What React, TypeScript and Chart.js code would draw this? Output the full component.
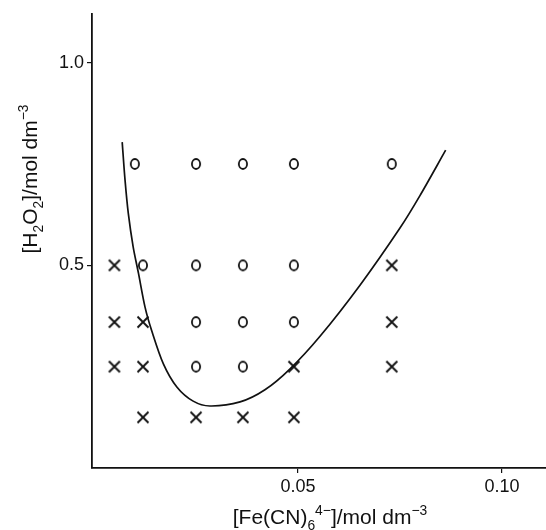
import React, { useEffect, useRef } from "react";
import { Chart, registerables } from "chart.js";

Chart.register(...registerables);

// Data
const circleX = [0.010, 0.025, 0.0365, 0.049, 0.073, 0.012, 0.025, 0.0365, 0.049, 0.025, 0.0365, 0.049, 0.025, 0.0365];
const circleY = [0.75, 0.75, 0.75, 0.75, 0.75, 0.5, 0.5, 0.5, 0.5, 0.36, 0.36, 0.36, 0.25, 0.25];
const crossX = [0.005, 0.073, 0.005, 0.012, 0.073, 0.005, 0.012, 0.049, 0.073, 0.012, 0.025, 0.0365, 0.049];
const crossY = [0.5, 0.5, 0.36, 0.36, 0.36, 0.25, 0.25, 0.25, 0.25, 0.125, 0.125, 0.125, 0.125];
const curveX = [0.0069, 0.0076, 0.0084, 0.0096, 0.0109, 0.0125, 0.0141, 0.0170, 0.0203, 0.0243, 0.0284, 0.0358, 0.0419, 0.0480, 0.0554, 0.0652, 0.0750, 0.0799, 0.0862];
const curveY = [0.804, 0.710, 0.628, 0.545, 0.480, 0.397, 0.340, 0.257, 0.200, 0.165, 0.153, 0.163, 0.193, 0.244, 0.325, 0.451, 0.592, 0.672, 0.784];
const yTickValues = [0.5, 1.0];
const yTickLabels = ["0.5", "1.0"];
const xTickValues = [0.05, 0.1];
const xTickLabels = ["0.05", "0.10"];

const INK = "#111111";
const FONT = "'Liberation Sans', Arial, Helvetica, sans-serif";

type Seg = { t: string; k?: "sub" | "sup" };
const yTitle: Seg[] = [
  { t: "[H" }, { t: "2", k: "sub" }, { t: "O" }, { t: "2", k: "sub" }, { t: "]/mol dm" }, { t: "\u22123", k: "sup" },
];
const xTitle: Seg[] = [
  { t: "[Fe(CN)" }, { t: "6", k: "sub" }, { t: "4\u2212", k: "sup" }, { t: "]/mol dm" }, { t: "\u22123", k: "sup" },
];

function makeCircle(): HTMLCanvasElement {
  const c = document.createElement("canvas");
  c.width = 12; c.height = 14;
  const ctx = c.getContext("2d")!;
  ctx.strokeStyle = INK;
  ctx.lineWidth = 1.8;
  ctx.beginPath();
  ctx.ellipse(6, 7, 4.1, 5.0, 0, 0, Math.PI * 2);
  ctx.stroke();
  return c;
}
function makeCross(): HTMLCanvasElement {
  const c = document.createElement("canvas");
  c.width = 14; c.height = 14;
  const ctx = c.getContext("2d")!;
  ctx.strokeStyle = INK;
  ctx.lineWidth = 1.9;
  ctx.beginPath();
  ctx.moveTo(1.5, 1.5); ctx.lineTo(12.5, 12.5);
  ctx.moveTo(12.5, 1.5); ctx.lineTo(1.5, 12.5);
  ctx.stroke();
  return c;
}

function measureRich(ctx: CanvasRenderingContext2D, segs: Seg[], size: number): number {
  let w = 0;
  for (const s of segs) {
    ctx.font = `${s.k ? size * 0.66 : size}px ${FONT}`;
    w += ctx.measureText(s.t).width;
  }
  return w;
}
function drawRich(ctx: CanvasRenderingContext2D, segs: Seg[], size: number, x: number, y: number) {
  let cx = x;
  for (const s of segs) {
    const fs = s.k ? size * 0.66 : size;
    ctx.font = `${fs}px ${FONT}`;
    const dy = s.k === "sub" ? size * 0.28 : s.k === "sup" ? -size * 0.45 : 0;
    ctx.fillText(s.t, cx, y + dy);
    cx += ctx.measureText(s.t).width;
  }
}

const titlePlugin = {
  id: "richTitles",
  afterDraw(chart: any) {
    const ctx: CanvasRenderingContext2D = chart.ctx;
    ctx.save();
    ctx.fillStyle = INK;
    ctx.textBaseline = "alphabetic";
    ctx.textAlign = "left";
    const size = 21;
    const wx = measureRich(ctx, xTitle, size);
    drawRich(ctx, xTitle, size, 330 - wx / 2, 524);
    const wy = measureRich(ctx, yTitle, size);
    ctx.translate(37, 179);
    ctx.rotate(-Math.PI / 2);
    drawRich(ctx, yTitle, size, -wy / 2, 0);
    ctx.restore();
  },
};

export default function App() {
  const ref = useRef<HTMLCanvasElement | null>(null);
  useEffect(() => {
    if (!ref.current) return;
    const circleImg = makeCircle();
    const crossImg = makeCross();
    const chart = new Chart(ref.current, {
      type: "scatter",
      data: {
        datasets: [
          {
            label: "curve",
            data: curveX.map((x, i) => ({ x, y: curveY[i] })),
            showLine: true,
            borderColor: INK,
            borderWidth: 1.7,
            pointRadius: 0,
            tension: 0.3,
          } as any,
          {
            label: "o",
            data: circleX.map((x, i) => ({ x, y: circleY[i] })),
            pointStyle: circleImg as any,
            pointRadius: 6,
          },
          {
            label: "x",
            data: crossX.map((x, i) => ({ x, y: crossY[i] })),
            pointStyle: crossImg as any,
            pointRadius: 6,
          },
        ],
      },
      options: {
        animation: false,
        responsive: true,
        maintainAspectRatio: false,
        layout: { padding: { top: 14, right: 0, left: 0, bottom: 0 } },
        plugins: { legend: { display: false }, tooltip: { enabled: false } },
        scales: {
          x: {
            type: "linear",
            min: -0.0005,
            max: 0.1108,
            afterFit: (s: any) => { s.height = 62; s.paddingLeft = 0; s.paddingRight = 0; },
            afterBuildTicks: (s: any) => { s.ticks = xTickValues.map((v) => ({ value: v })); },
            ticks: {
              color: INK,
              font: { family: FONT, size: 18 },
              padding: 3,
              maxRotation: 0,
              callback: (v: any) => { const i = xTickValues.indexOf(v); return i >= 0 ? xTickLabels[i] : ""; },
            },
            grid: { display: true, drawOnChartArea: false, drawTicks: true, tickLength: 5, color: INK, lineWidth: 1.2 },
            border: { display: true, color: INK, width: 1.8 },
          },
          y: {
            type: "linear",
            min: 0,
            max: 1.12,
            afterFit: (s: any) => { s.width = 92; s.paddingTop = 0; s.paddingBottom = 0; },
            afterBuildTicks: (s: any) => { s.ticks = yTickValues.map((v) => ({ value: v })); },
            ticks: {
              color: INK,
              font: { family: FONT, size: 18 },
              padding: 3,
              callback: (v: any) => { const i = yTickValues.indexOf(v); return i >= 0 ? yTickLabels[i] : ""; },
            },
            grid: { display: true, drawOnChartArea: false, drawTicks: true, tickLength: 5, color: INK, lineWidth: 1.2 },
            border: { display: true, color: INK, width: 1.8 },
          },
        },
      },
      plugins: [titlePlugin],
    });
    return () => chart.destroy();
  }, []);
  return (
    <div style={{ position: "fixed", left: 0, top: 0, width: 553, height: 530, background: "#fff" }}>
      <canvas ref={ref} />
    </div>
  );
}
